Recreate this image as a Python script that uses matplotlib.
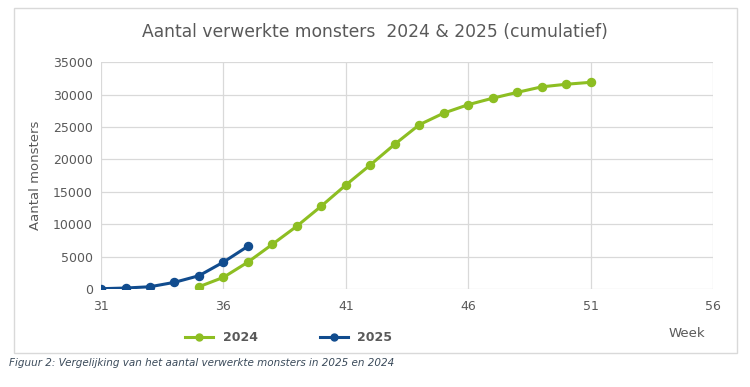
import matplotlib.pyplot as plt
from matplotlib.patches import Rectangle
from matplotlib.lines import Line2D

# Data (cumulatief aantal verwerkte monsters per week)
weken_2024 = [35, 36, 37, 38, 39, 40, 41, 42, 43, 44, 45, 46, 47, 48, 49, 50, 51]
monsters_2024 = [350, 1800, 4150, 6900, 9700, 12800, 16050, 19150, 22350,
                 25350, 27150, 28450, 29450, 30350, 31200, 31600, 31900]
weken_2025 = [31, 32, 33, 34, 35, 36, 37]
monsters_2025 = [50, 150, 350, 1030, 2050, 4150, 6600]

groen = '#8DBE22'
blauw = '#114C8E'
grijs = '#595959'

fig = plt.figure(figsize=(7.5, 3.87), dpi=100)
ax = fig.add_axes([0.1347, 0.2532, 0.816, 0.586])

# kader rond de grafiek
kader = Rectangle((0.0187, 0.088), 0.964, 0.891, transform=fig.transFigure,
                  facecolor='white', edgecolor='#D9D9D9', linewidth=1.0, zorder=-1)
fig.patches.append(kader)

ax.plot(weken_2024, monsters_2024, color=groen, lw=2.2, marker='o', ms=5.8, label='2024', zorder=3)
ax.plot(weken_2025, monsters_2025, color=blauw, lw=2.2, marker='o', ms=5.8, label='2025', zorder=4)

ax.set_xlim(31, 56)
ax.set_ylim(0, 35000)
ax.set_xticks(range(31, 57, 5))
ax.set_yticks(range(0, 35001, 5000))
ax.grid(True, color='#D9D9D9', lw=0.9)
ax.set_axisbelow(True)
for s in ax.spines.values():
    s.set_visible(False)
ax.tick_params(length=0, labelsize=9, colors=grijs, pad=6)
ax.tick_params(axis='x', pad=8)
ax.set_ylabel('Aantal monsters', fontsize=9.5, color=grijs, labelpad=8)
ax.patch.set_alpha(0)

fig.text(0.5, 0.917, 'Aantal verwerkte monsters  2024 & 2025 (cumulatief)',
         ha='center', va='center', fontsize=12.3, color=grijs)

handles = [Line2D([], [], color=groen, lw=2.2, marker='o', ms=5),
           Line2D([], [], color=blauw, lw=2.2, marker='o', ms=5)]
leg = fig.legend(handles, ['2024', '2025'], loc='center', bbox_to_anchor=(0.385, 0.128),
                 ncol=2, frameon=False, columnspacing=5, handlelength=2.2,
                 prop={'weight': 'bold', 'size': 9})
for t in leg.get_texts():
    t.set_color(grijs)

fig.text(0.892, 0.137, 'Week', ha='left', va='center', fontsize=9.5, color=grijs)

fig.text(0.012, 0.062, 'Figuur 2: Vergelijking van het aantal verwerkte monsters in 2025 en 2024',
         ha='left', va='center', fontsize=7.5, style='italic', color='#3A4A5A',
         family=['Liberation Sans Narrow', 'DejaVu Sans'])

fig.savefig('out.png', dpi=100)
